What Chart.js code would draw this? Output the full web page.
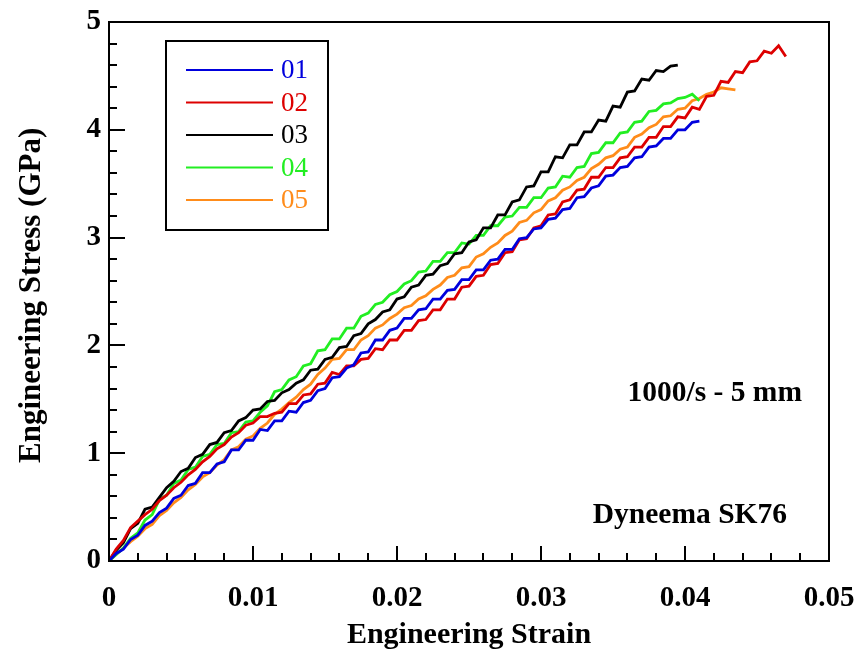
<!DOCTYPE html>
<html>
<head>
<meta charset="utf-8">
<script src="https://cdn.jsdelivr.net/npm/chart.js@4.4.1/dist/chart.umd.min.js"></script>
<style>
  html, body { margin: 0; padding: 0; background: #fff; }
  #wrap { width: 859px; height: 653px; position: relative; }
</style>
</head>
<body>
<div id="wrap"><canvas id="stress-strain-chart"></canvas></div>
<script>
// strain grid shared by all specimens (step 0.0005)
const strainGrid = [
  0, 0.0005, 0.001, 0.0015, 0.002, 0.0025, 0.003, 0.0035, 0.004, 0.0045,
  0.005, 0.0055, 0.006, 0.0065, 0.007, 0.0075, 0.008, 0.0085, 0.009, 0.0095,
  0.010, 0.0105, 0.011, 0.0115, 0.012, 0.0125, 0.013, 0.0135, 0.014, 0.0145,
  0.015, 0.0155, 0.016, 0.0165, 0.017, 0.0175, 0.018, 0.0185, 0.019, 0.0195,
  0.020, 0.0205, 0.021, 0.0215, 0.022, 0.0225, 0.023, 0.0235, 0.024, 0.0245,
  0.025, 0.0255, 0.026, 0.0265, 0.027, 0.0275, 0.028, 0.0285, 0.029, 0.0295,
  0.030, 0.0305, 0.031, 0.0315, 0.032, 0.0325, 0.033, 0.0335, 0.034, 0.0345,
  0.035, 0.0355, 0.036, 0.0365, 0.037, 0.0375, 0.038, 0.0385, 0.039, 0.0395,
  0.040, 0.0405, 0.041, 0.0415, 0.042, 0.0425, 0.043, 0.0435, 0.044, 0.0445,
  0.045, 0.0455, 0.046, 0.0465, 0.047
];

// engineering stress (GPa) per specimen
const stress01 = [
  0, 0.07, 0.11, 0.20, 0.24, 0.33, 0.37, 0.45, 0.49, 0.58,
  0.61, 0.70, 0.72, 0.82, 0.82, 0.90, 0.92, 1.03, 1.03, 1.12,
  1.12, 1.22, 1.21, 1.30, 1.30, 1.39, 1.38, 1.47, 1.49, 1.58,
  1.60, 1.70, 1.71, 1.79, 1.82, 1.93, 1.94, 2.05, 2.05, 2.14,
  2.16, 2.25, 2.25, 2.33, 2.34, 2.43, 2.43, 2.51, 2.52, 2.61,
  2.61, 2.70, 2.70, 2.79, 2.80, 2.89, 2.89, 2.99, 3.00, 3.08,
  3.09, 3.17, 3.18, 3.26, 3.27, 3.37, 3.38, 3.46, 3.48, 3.57,
  3.58, 3.65, 3.66, 3.74, 3.75, 3.84, 3.85, 3.92, 3.92, 4.00,
  4.00, 4.07, 4.08
];
const stress02 = [
  0, 0.11, 0.19, 0.31, 0.37, 0.43, 0.48, 0.56, 0.61, 0.68,
  0.73, 0.80, 0.85, 0.92, 0.97, 1.04, 1.08, 1.15, 1.19, 1.26,
  1.28, 1.34, 1.34, 1.37, 1.38, 1.46, 1.46, 1.54, 1.55, 1.64,
  1.65, 1.75, 1.73, 1.81, 1.81, 1.87, 1.88, 1.97, 1.96, 2.05,
  2.05, 2.14, 2.14, 2.23, 2.24, 2.33, 2.33, 2.43, 2.43, 2.54,
  2.55, 2.64, 2.65, 2.75, 2.76, 2.86, 2.87, 2.98, 2.99, 3.09,
  3.11, 3.21, 3.22, 3.33, 3.35, 3.44, 3.45, 3.56, 3.56, 3.65,
  3.65, 3.74, 3.75, 3.84, 3.84, 3.93, 3.93, 4.03, 4.03, 4.12,
  4.11, 4.21, 4.19, 4.31, 4.32, 4.45, 4.44, 4.54, 4.53, 4.63,
  4.64, 4.73, 4.71, 4.78, 4.68
];
const stress03 = [
  0, 0.10, 0.17, 0.30, 0.35, 0.48, 0.50, 0.59, 0.68, 0.74,
  0.83, 0.86, 0.96, 0.99, 1.08, 1.10, 1.19, 1.21, 1.30, 1.33,
  1.40, 1.41, 1.48, 1.49, 1.56, 1.59, 1.65, 1.68, 1.77, 1.78,
  1.87, 1.89, 1.98, 1.99, 2.09, 2.11, 2.20, 2.24, 2.31, 2.33,
  2.43, 2.45, 2.54, 2.56, 2.65, 2.66, 2.74, 2.76, 2.85, 2.86,
  2.96, 2.98, 3.09, 3.09, 3.21, 3.21, 3.33, 3.35, 3.47, 3.48,
  3.61, 3.61, 3.75, 3.74, 3.86, 3.86, 3.98, 3.98, 4.09, 4.08,
  4.22, 4.21, 4.35, 4.36, 4.47, 4.46, 4.55, 4.54, 4.59, 4.60
];
const stress04 = [
  0, 0.06, 0.12, 0.21, 0.26, 0.38, 0.43, 0.57, 0.61, 0.72,
  0.75, 0.85, 0.87, 0.97, 0.99, 1.08, 1.09, 1.19, 1.20, 1.29,
  1.30, 1.38, 1.44, 1.57, 1.59, 1.68, 1.71, 1.81, 1.83, 1.95,
  1.96, 2.06, 2.06, 2.16, 2.16, 2.27, 2.30, 2.38, 2.40, 2.47,
  2.50, 2.57, 2.60, 2.68, 2.69, 2.78, 2.78, 2.86, 2.86, 2.95,
  2.94, 3.02, 3.02, 3.11, 3.11, 3.19, 3.20, 3.28, 3.28, 3.37,
  3.37, 3.46, 3.47, 3.57, 3.56, 3.65, 3.66, 3.78, 3.79, 3.88,
  3.88, 3.97, 3.98, 4.07, 4.08, 4.17, 4.18, 4.24, 4.25, 4.29,
  4.30, 4.33, 4.27
];
const stress05 = [
  0, 0.06, 0.12, 0.18, 0.23, 0.30, 0.34, 0.42, 0.47, 0.54,
  0.59, 0.66, 0.71, 0.78, 0.82, 0.89, 0.94, 1.03, 1.06, 1.13,
  1.16, 1.23, 1.28, 1.36, 1.41, 1.47, 1.52, 1.59, 1.64, 1.73,
  1.79, 1.87, 1.88, 1.96, 1.96, 2.05, 2.09, 2.16, 2.19, 2.25,
  2.29, 2.35, 2.37, 2.43, 2.46, 2.52, 2.56, 2.63, 2.65, 2.72,
  2.73, 2.82, 2.85, 2.91, 2.95, 3.02, 3.06, 3.14, 3.16, 3.23,
  3.26, 3.34, 3.37, 3.44, 3.47, 3.53, 3.56, 3.64, 3.68, 3.74,
  3.76, 3.82, 3.84, 3.93, 3.96, 4.02, 4.05, 4.12, 4.13, 4.19,
  4.20, 4.27, 4.29, 4.33, 4.35, 4.39, 4.38, 4.37
];

const specimenLabels = ['01', '02', '03', '04', '05'];
const specimenColors = ['#0000dd', '#dd0000', '#000000', '#22ee22', '#ff8c1a'];
const specimenStress = [stress01, stress02, stress03, stress04, stress05];

const xTickValues = [0, 0.01, 0.02, 0.03, 0.04, 0.05];
const yTickValues = [0, 1, 2, 3, 4, 5];

const serif = "'Liberation Serif', 'Times New Roman', serif";

// Function to pair strain and stress values
function toPoints(stress) {
    return stress.map((s, i) => ({ x: strainGrid[i], y: s }));
}

// Frame and inward tick marks on the left and bottom axes
const framePlugin = {
    id: 'frame',
    afterDraw(chart) {
        const { ctx, chartArea: a, scales } = chart;
        ctx.save();
        ctx.strokeStyle = '#000';
        ctx.lineWidth = 2;
        ctx.strokeRect(a.left, a.top, a.right - a.left, a.bottom - a.top);

        // x ticks: minor every 0.002, major every 0.01
        for (let i = 0; i <= 25; i++) {
            const px = Math.round(scales.x.getPixelForValue(i * 0.002));
            const len = i % 5 === 0 ? 15 : 8;
            ctx.beginPath();
            ctx.moveTo(px, a.bottom);
            ctx.lineTo(px, a.bottom - len);
            ctx.stroke();
        }
        // y ticks: minor every 0.2, major every 1
        for (let i = 0; i <= 25; i++) {
            const py = Math.round(scales.y.getPixelForValue(i * 0.2));
            const len = i % 5 === 0 ? 16 : 8;
            ctx.beginPath();
            ctx.moveTo(a.left, py);
            ctx.lineTo(a.left + len, py);
            ctx.stroke();
        }
        ctx.restore();
    }
};

// Legend box inside the plot and the two annotations
const legendPlugin = {
    id: 'boxLegend',
    afterDraw(chart) {
        const { ctx, chartArea: a } = chart;
        ctx.save();
        ctx.strokeStyle = '#000';
        ctx.lineWidth = 2;
        ctx.strokeRect(a.left + 57, a.top + 19, 162, 189);

        chart.data.datasets.forEach((ds, i) => {
            const y = a.top + 48 + i * 32.5;
            ctx.strokeStyle = ds.borderColor;
            ctx.lineWidth = 2;
            ctx.beginPath();
            ctx.moveTo(a.left + 77, y);
            ctx.lineTo(a.left + 164, y);
            ctx.stroke();
            ctx.fillStyle = ds.borderColor;
            ctx.font = '27px ' + serif;
            ctx.textAlign = 'left';
            ctx.textBaseline = 'middle';
            ctx.fillText(ds.label, a.left + 172, y + 1);
        });

        ctx.fillStyle = '#000';
        ctx.font = 'bold 29.5px ' + serif;
        ctx.textAlign = 'right';
        ctx.textBaseline = 'middle';
        ctx.fillText('1000/s - 5 mm', a.right - 27, a.top + 371);
        ctx.fillText('Dyneema SK76', a.right - 42, a.top + 493);
        ctx.restore();
    }
};

const ctx = document.getElementById('stress-strain-chart').getContext('2d');

const chart = new Chart(ctx, {
    type: 'scatter',
    data: {
        datasets: specimenLabels.map((label, i) => ({
            label: label,
            data: toPoints(specimenStress[i]),
            showLine: true,
            borderColor: specimenColors[i],
            backgroundColor: specimenColors[i],
            borderWidth: 2.8,
            pointRadius: 0,
            tension: 0
        }))
    },
    options: {
        responsive: true,
        maintainAspectRatio: false,
        animation: false,
        layout: { padding: { top: 22, right: 30, left: 0, bottom: 0 } },
        plugins: {
            legend: { display: false },
            tooltip: { enabled: false }
        },
        scales: {
            x: {
                type: 'linear',
                min: 0,
                max: 0.05,
                afterFit(scale) {
                    scale.height = 92;
                    scale.paddingLeft = 0;
                    scale.paddingRight = 0;
                },
                afterBuildTicks(scale) { scale.ticks = xTickValues.map(v => ({ value: v })); },
                grid: { display: false, drawTicks: false },
                border: { display: false },
                ticks: {
                    color: '#000',
                    padding: 20,
                    maxRotation: 0,
                    font: { family: serif, size: 29, weight: 'bold' },
                    callback: v => String(+v.toFixed(2))
                },
                title: {
                    display: true,
                    text: 'Engineering Strain',
                    color: '#000',
                    padding: { top: 0, bottom: 0 },
                    font: { family: serif, size: 30, weight: 'bold' }
                }
            },
            y: {
                type: 'linear',
                min: 0,
                max: 5,
                afterFit(scale) {
                    scale.width = 109;
                    scale.paddingTop = 0;
                    scale.paddingBottom = 0;
                },
                afterBuildTicks(scale) { scale.ticks = yTickValues.map(v => ({ value: v })); },
                grid: { display: false, drawTicks: false },
                border: { display: false },
                ticks: {
                    color: '#000',
                    padding: 8,
                    font: { family: serif, size: 29, weight: 'bold' },
                    callback: v => String(v)
                },
                title: {
                    display: true,
                    text: 'Engineering Stress (GPa) ',
                    color: '#000',
                    padding: { top: 13, bottom: 0 },
                    font: { family: serif, size: 31, weight: 'bold' }
                }
            }
        }
    },
    plugins: [framePlugin, legendPlugin]
});
</script>
</body>
</html>
